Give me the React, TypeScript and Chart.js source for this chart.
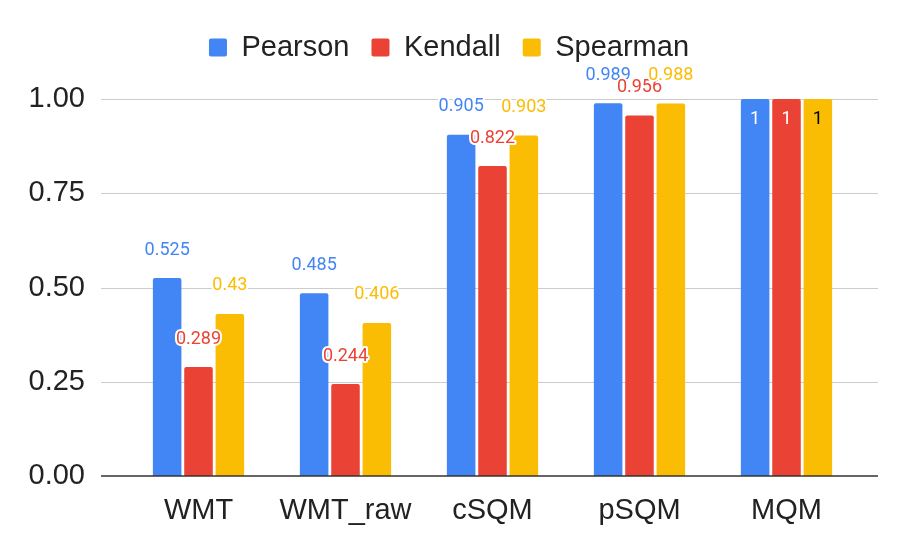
import { useEffect, useRef } from "react";
import Chart from "chart.js/auto";

const categories = ["WMT", "WMT_raw", "cSQM", "pSQM", "MQM"];
const seriesNames = ["Pearson", "Kendall", "Spearman"];
const pearson = [0.525, 0.485, 0.905, 0.989, 1];
const kendall = [0.289, 0.244, 0.822, 0.956, 1];
const spearman = [0.43, 0.406, 0.903, 0.988, 1];
const yTicks = [0, 0.25, 0.5, 0.75, 1];

const colors = ["#4285F4", "#EA4335", "#FBBC04"];
const insideColors = ["#ffffff", "#ffffff", "#000000"];
const AXIS_FONT = "'Liberation Sans', Arial, sans-serif";

// gridlines run a bit wider than the bar area, like Google Sheets
const gridPlugin = {
  id: "sheetGrid",
  beforeDatasetsDraw(chart: any) {
    const { ctx, chartArea, scales } = chart;
    ctx.save();
    ctx.strokeStyle = "#cccccc";
    ctx.lineWidth = 1;
    yTicks.forEach((t) => {
      if (t === 0) return;
      const y = Math.round(scales.y.getPixelForValue(t)) + 0.5;
      ctx.beginPath();
      ctx.moveTo(chartArea.left - 24, y);
      ctx.lineTo(chartArea.right + 18, y);
      ctx.stroke();
    });
    ctx.restore();
  },
  afterDatasetsDraw(chart: any) {
    const { ctx, chartArea, scales } = chart;
    ctx.save();
    ctx.strokeStyle = "#333333";
    ctx.lineWidth = 1.5;
    const y = scales.y.getPixelForValue(0);
    ctx.beginPath();
    ctx.moveTo(chartArea.left - 24, y);
    ctx.lineTo(chartArea.right + 18, y);
    ctx.stroke();
    ctx.restore();
  },
};

const valueLabels = {
  id: "valueLabels",
  afterDatasetsDraw(chart: any) {
    const ctx = chart.ctx;
    const yMax = chart.scales.y.max;
    ctx.save();
    ctx.font = "18px Roboto";
    ctx.textAlign = "center";
    ctx.textBaseline = "middle";
    ctx.lineJoin = "round";
    chart.data.datasets.forEach((ds: any, di: number) => {
      const meta = chart.getDatasetMeta(di);
      meta.data.forEach((bar: any, i: number) => {
        const v = ds.data[i] as number;
        const text = String(v);
        const inside = v >= yMax;
        const y = inside ? bar.y + 20 : bar.y - 28;
        if (!inside) {
          ctx.strokeStyle = "#ffffff";
          ctx.lineWidth = 4;
          ctx.strokeText(text, bar.x, y);
        }
        ctx.fillStyle = inside ? insideColors[di] : colors[di];
        ctx.fillText(text, bar.x, y);
      });
    });
    ctx.restore();
  },
};

// extra room between legend and plot, and centre the legend on the full canvas
const legendTweaks = {
  id: "legendTweaks",
  beforeInit(chart: any) {
    const fit = chart.legend.fit;
    chart.legend.fit = function () {
      fit.bind(this)();
      this.height += 27;
    };
  },
  afterLayout(chart: any) {
    chart.legend.left = 0;
    chart.legend.right = chart.width;
  },
};

export default function App() {
  const canvasRef = useRef<HTMLCanvasElement>(null);
  const chartRef = useRef<Chart | null>(null);

  useEffect(() => {
    document.body.style.margin = "0";
    if (!canvasRef.current) return;
    if (chartRef.current) chartRef.current.destroy();

    const values = [pearson, kendall, spearman];

    chartRef.current = new Chart(canvasRef.current, {
      type: "bar",
      data: {
        labels: categories,
        datasets: seriesNames.map((name, i) => ({
          label: name,
          data: values[i],
          backgroundColor: colors[i],
          borderWidth: 0,
          borderRadius: 2,
          borderSkipped: "start",
          categoryPercentage: 0.64,
          barPercentage: 0.91,
        })),
      },
      options: {
        animation: false,
        responsive: true,
        maintainAspectRatio: false,
        layout: { padding: { top: 11, left: 20, right: 38, bottom: 27 } },
        plugins: {
          tooltip: { enabled: false },
          legend: {
            position: "top",
            labels: {
              boxWidth: 18,
              boxHeight: 18,
              useBorderRadius: true,
              borderRadius: 2,
              padding: 22,
              color: "#222222",
              font: { family: AXIS_FONT, size: 29 },
            },
          },
        },
        scales: {
          x: {
            grid: { display: false, drawTicks: false },
            border: { display: false },
            afterFit: (scale: any) => {
              scale.height = 52;
            },
            ticks: {
              color: "#222222",
              padding: 18,
              font: { family: AXIS_FONT, size: 29 },
            },
          },
          y: {
            min: 0,
            max: 1,
            grid: { display: false, drawTicks: false },
            border: { display: false },
            afterFit: (scale: any) => {
              scale.width = 105;
            },
            afterBuildTicks: (scale: any) => {
              scale.ticks = yTicks.map((v) => ({ value: v }));
            },
            ticks: {
              color: "#222222",
              padding: 40,
              font: { family: AXIS_FONT, size: 29 },
              callback: (v: any) => Number(v).toFixed(2),
            },
          },
        },
      },
      plugins: [gridPlugin, valueLabels, legendTweaks],
    });

    return () => {
      if (chartRef.current) {
        chartRef.current.destroy();
        chartRef.current = null;
      }
    };
  }, []);

  return (
    <div style={{ position: "relative", width: 898, height: 555, background: "#fff" }}>
      <canvas ref={canvasRef}></canvas>
    </div>
  );
}
